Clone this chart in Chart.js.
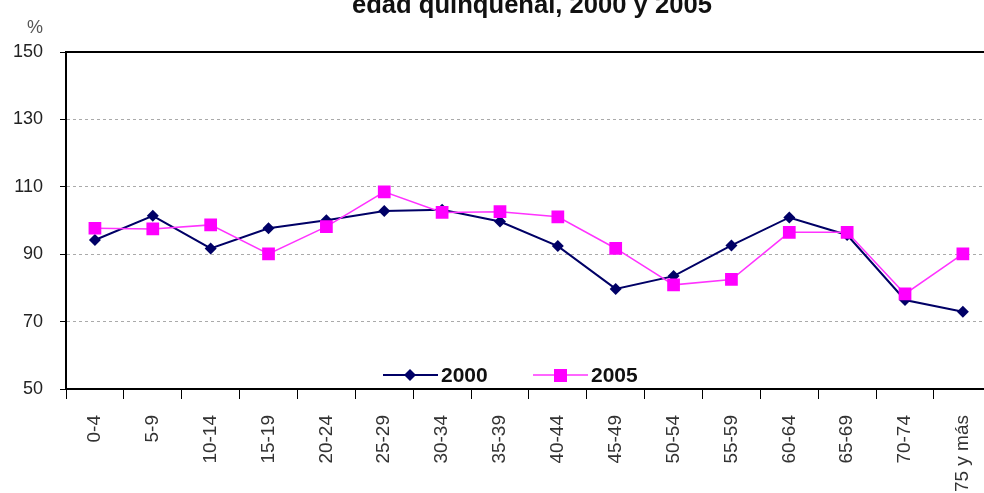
<!DOCTYPE html>
<html lang="es">
<head>
  <meta charset="UTF-8">
  <title>edad quinquenal, 2000 y 2005</title>
  <script src="https://cdn.jsdelivr.net/npm/chart.js@4.4.1/dist/chart.umd.min.js"></script>
  <style>
    body {
      margin: 0;
      background: #fff;
      font-family: 'Liberation Sans', Arial, sans-serif;
      overflow: hidden;
    }
    #wrap {
      position: relative;
      width: 1002px;
      height: 493px;
    }
    #title {
      position: absolute;
      left: 352px;
      top: -8px;
      font-size: 25.6px;
      line-height: 1;
      font-weight: bold;
      color: #111;
      white-space: nowrap;
    }
    #unit {
      position: absolute;
      left: 27px;
      top: 18px;
      font-size: 18px;
      line-height: 1;
      color: #555;
    }
    .leg {
      position: absolute;
      top: 364px;
      height: 22px;
      display: flex;
      align-items: center;
      font-size: 21px;
      font-weight: bold;
      color: #111;
    }
    .leg svg { margin-right: 3px; }
  </style>
</head>
<body>
  <div id="wrap">
    <canvas id="chart"></canvas>
    <div id="title">edad quinquenal, 2000 y 2005</div>
    <div id="unit">%</div>
    <div id="legend"></div>
  </div>

  <script>
    const categories = ['0-4', '5-9', '10-14', '15-19', '20-24', '25-29', '30-34', '35-39',
      '40-44', '45-49', '50-54', '55-59', '60-64', '65-69', '70-74', '75 y más'];
    const values2000 = [94.2, 101.4, 91.7, 97.7, 100.1, 102.8, 103.2, 99.7,
      92.4, 79.7, 83.5, 92.6, 100.9, 95.7, 76.4, 72.9];
    const values2005 = [97.7, 97.5, 98.7, 90.1, 98.2, 108.5, 102.4, 102.6,
      101.1, 91.7, 80.9, 82.5, 96.5, 96.5, 78.2, 90.1];
    const yTicks = [50, 70, 90, 110, 130, 150];

    const labelFont = { family: "'Liberation Sans', Arial, sans-serif", size: 19 };

    const chart = new Chart(document.getElementById('chart'), {
      type: 'line',
      data: {
        labels: categories,
        datasets: [{
          label: '2000',
          data: values2000,
          borderColor: '#000066',
          backgroundColor: '#000066',
          borderWidth: 2,
          pointStyle: 'rectRot',
          pointRadius: 6,
          pointBorderWidth: 0,
          tension: 0,
          order: 2
        }, {
          label: '2005',
          data: values2005,
          borderColor: '#ff33ff',
          backgroundColor: '#ff00ff',
          borderWidth: 1.5,
          pointStyle: 'rect',
          pointRadius: 9,
          pointBorderWidth: 0,
          tension: 0,
          order: 1
        }]
      },
      options: {
        responsive: true,
        maintainAspectRatio: false,
        animation: false,
        layout: { padding: { top: 52, right: 4, left: 0, bottom: 0 } },
        scales: {
          x: {
            offset: true,
            grid: {
              offset: true,
              drawOnChartArea: false,
              tickLength: 10,
              tickColor: '#000'
            },
            border: { color: '#000', width: 2 },
            ticks: {
              autoSkip: false,
              minRotation: 90,
              maxRotation: 90,
              padding: 16,
              color: '#333',
              font: labelFont
            },
            afterFit: s => { s.height = 104; }
          },
          xTop: {
            position: 'top',
            type: 'category',
            labels: categories,
            grid: { drawOnChartArea: false, drawTicks: false },
            border: { color: '#000', width: 2 },
            ticks: { display: false },
            afterFit: s => { s.height = 0; }
          },
          y: {
            min: yTicks[0],
            max: yTicks[yTicks.length - 1],
            afterBuildTicks: s => { s.ticks = yTicks.map(v => ({ value: v })); },
            grid: {
              color: c => (c.tick && (c.tick.value === 150 || c.tick.value === 50)) ? 'rgba(0,0,0,0)' : '#aaa',
              tickColor: '#000',
              tickLength: 6
            },
            border: { color: '#000', width: 2, dash: [3, 3] },
            ticks: {
              padding: 17,
              color: '#222',
              font: { family: "'Liberation Sans', Arial, sans-serif", size: 18 }
            },
            afterFit: s => { s.width = 66; }
          }
        },
        plugins: {
          legend: { display: false },
          tooltip: { enabled: false }
        }
      }
    });

    // legend drawn as html, placed inside the plot like the original
    const legendPos = { '2000': 383, '2005': 533 };
    const legend = document.getElementById('legend');
    chart.data.datasets.forEach(ds => {
      const item = document.createElement('div');
      item.className = 'leg';
      item.style.left = legendPos[ds.label] + 'px';
      const marker = ds.pointStyle === 'rectRot'
        ? `<polygon points="27,5 33,11 27,17 21,11" fill="${ds.backgroundColor}"/>`
        : `<rect x="21" y="5" width="13" height="13" fill="${ds.backgroundColor}"/>`;
      item.innerHTML = `<svg width="55" height="22"><line x1="0" y1="11" x2="55" y2="11" stroke="${ds.borderColor}" stroke-width="${ds.borderWidth}"/>${marker}</svg>${ds.label}`;
      legend.appendChild(item);
    });
  </script>
</body>
</html>
